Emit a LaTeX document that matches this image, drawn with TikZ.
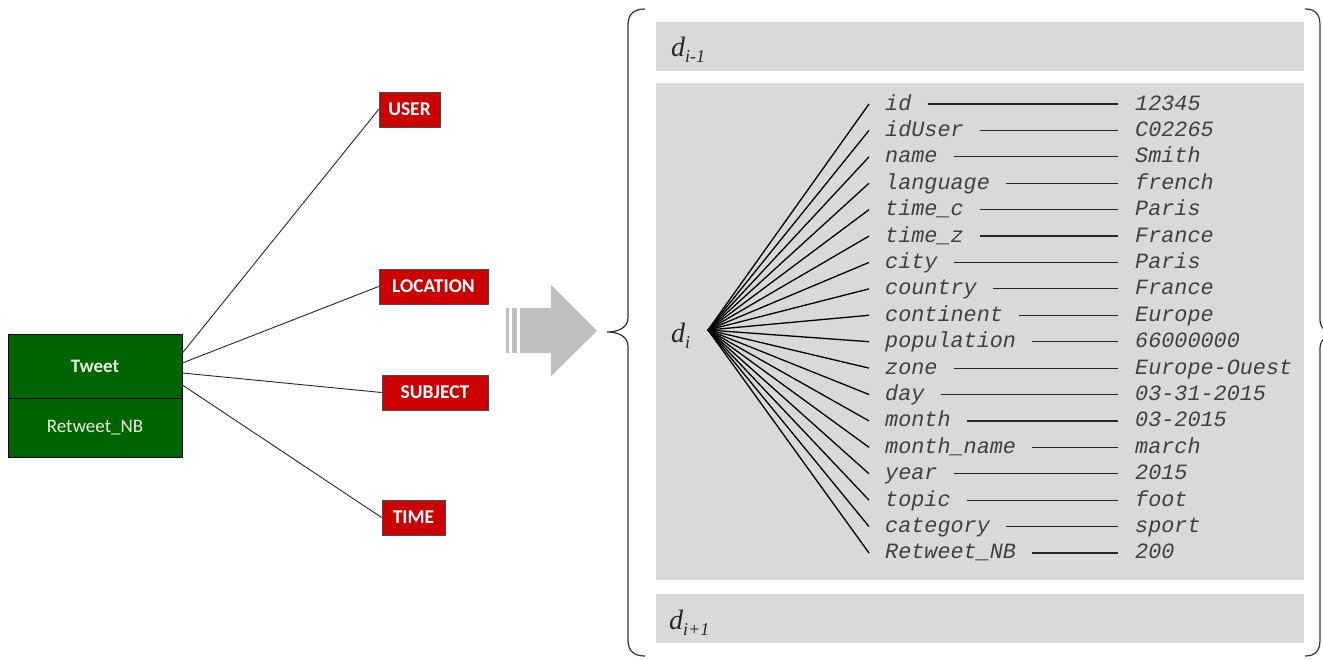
\documentclass[tikz,border=0pt]{standalone}
\usepackage{fontspec}
\setmainfont{Liberation Serif}
\newfontfamily\calfont{Carlito}
\newfontfamily\attrfont{Liberation Mono}
\definecolor{tgreen}{RGB}{0,100,0}
\definecolor{tred}{RGB}{204,0,0}
\definecolor{panel}{RGB}{217,217,217}
\definecolor{arrowgray}{RGB}{191,191,191}
\definecolor{txtgray}{RGB}{64,64,64}
\definecolor{lightgreen}{RGB}{232,245,224}
\tikzset{
  redbox/.style={draw=black!70, line width=0.8pt, fill=tred, text=white, font=\calfont\bfseries\fontsize{19.5}{20}\selectfont, minimum height=35pt, inner sep=0pt},
  greenbox/.style={draw=black, line width=0.8pt, fill=tgreen, text=lightgreen, minimum width=174pt, inner sep=0pt},
  conn/.style={draw=black!85, line width=0.9pt},
  attr/.style={anchor=west, inner sep=0pt, text=txtgray, font=\attrfont\itshape\fontsize{21.8}{22}\selectfont, text height=14pt, text depth=2pt},
  fan/.style={draw=black, line width=1.3pt},
  vline/.style={draw=black!85, line width=1.2pt},
  panelbox/.style={fill=panel, draw=none},
  brace/.style={draw=black!80, line width=1.2pt},
  dlab/.style={anchor=base west, inner sep=0pt, text=black!85}
}
\begin{document}
\begin{tikzpicture}[x=1pt,y=-1pt]
\useasboundingbox (0,0) rectangle (1323,659);
% left part
\node[greenbox, minimum height=64pt, font=\calfont\bfseries\fontsize{19}{20}\selectfont] (tweet) at (95,366) {Tweet};
\node[greenbox, minimum height=59pt, font=\calfont\fontsize{19}{20}\selectfont] (rnb) at (95,427.5) {Retweet\_NB};
\node[redbox, minimum width=61pt] (user) at (409.5,109.5) {USER};
\node[redbox, minimum width=109pt] (loc) at (433.5,286.5) {LOCATION};
\node[redbox, minimum width=106pt] (subj) at (435,392.5) {SUBJECT};
\node[redbox, minimum width=63pt] (time) at (413.5,517.5) {TIME};
\draw[conn] ([yshift=13pt]tweet.east) -- (user.west);
\draw[conn] ([yshift=3pt]tweet.east) -- (loc.west);
\draw[conn] ([yshift=-7pt]tweet.east) -- (subj.west);
\draw[conn] ([yshift=-19pt]tweet.east) -- (time.west);
% block arrow
\fill[arrowgray] (506,308) rectangle (509,353);
\fill[arrowgray] (512,308) rectangle (517,353);
\fill[arrowgray] (520,308) -- (551,308) -- (551,285) -- (597,331) -- (551,376) -- (551,353) -- (520,353) -- cycle;
% braces
\draw[brace] (645,9) .. controls (634,9) and (628,14) .. (628,25) -- (628,318) .. controls (628,327) and (619,332) .. (607,332)
  .. controls (619,332) and (628,337) .. (628,346) -- (628,640) .. controls (628,651) and (634,656) .. (645,656);
\draw[brace] (1305,9) .. controls (1315,9) and (1320,14) .. (1320,25) -- (1320,320) .. controls (1320,329) and (1328,334) .. (1340,334)
  .. controls (1328,334) and (1320,339) .. (1320,348) -- (1320,640) .. controls (1320,651) and (1315,656) .. (1305,656);
% panels
\fill[panelbox] (656,22) rectangle (1304,71);
\fill[panelbox] (656,83) rectangle (1304,580);
\fill[panelbox] (656,594) rectangle (1304,643);
\node[dlab] (dprev) at (671,56) {\fontsize{28}{28}\selectfont\itshape d\raisebox{-6pt}{\fontsize{18}{18}\selectfont i-1}};
\node[dlab] (dcur) at (671,342) {\fontsize{28}{28}\selectfont\itshape d\raisebox{-6pt}{\fontsize{18}{18}\selectfont i}};
\node[dlab] (dnext) at (669,629) {\fontsize{28}{28}\selectfont\itshape d\raisebox{-6pt}{\fontsize{18}{18}\selectfont i+1}};
\coordinate (hub) at (708,330);
\foreach [count=\k from 0] \a/\v in {id/12345, idUser/C02265, name/Smith, language/french, time\_c/Paris, time\_z/France, city/Paris, country/France, continent/Europe, population/66000000, zone/Europe-Ouest, day/03-31-2015, month/03-2015, month\_name/march, year/2015, topic/foot, category/sport, Retweet\_NB/200}{
  \pgfmathsetmacro{\yy}{104+26.41*\k}
  \node[attr] (a\k) at (885,\yy) {\a};
  \node[attr] (v\k) at (1135,\yy) {\v};
  \draw[vline] ([xshift=16pt]a\k.east) -- ([xshift=-17pt]v\k.west);
  \draw[fan] (hub) -- ([xshift=-16pt]a\k.west);
}
\end{tikzpicture}
\end{document}
